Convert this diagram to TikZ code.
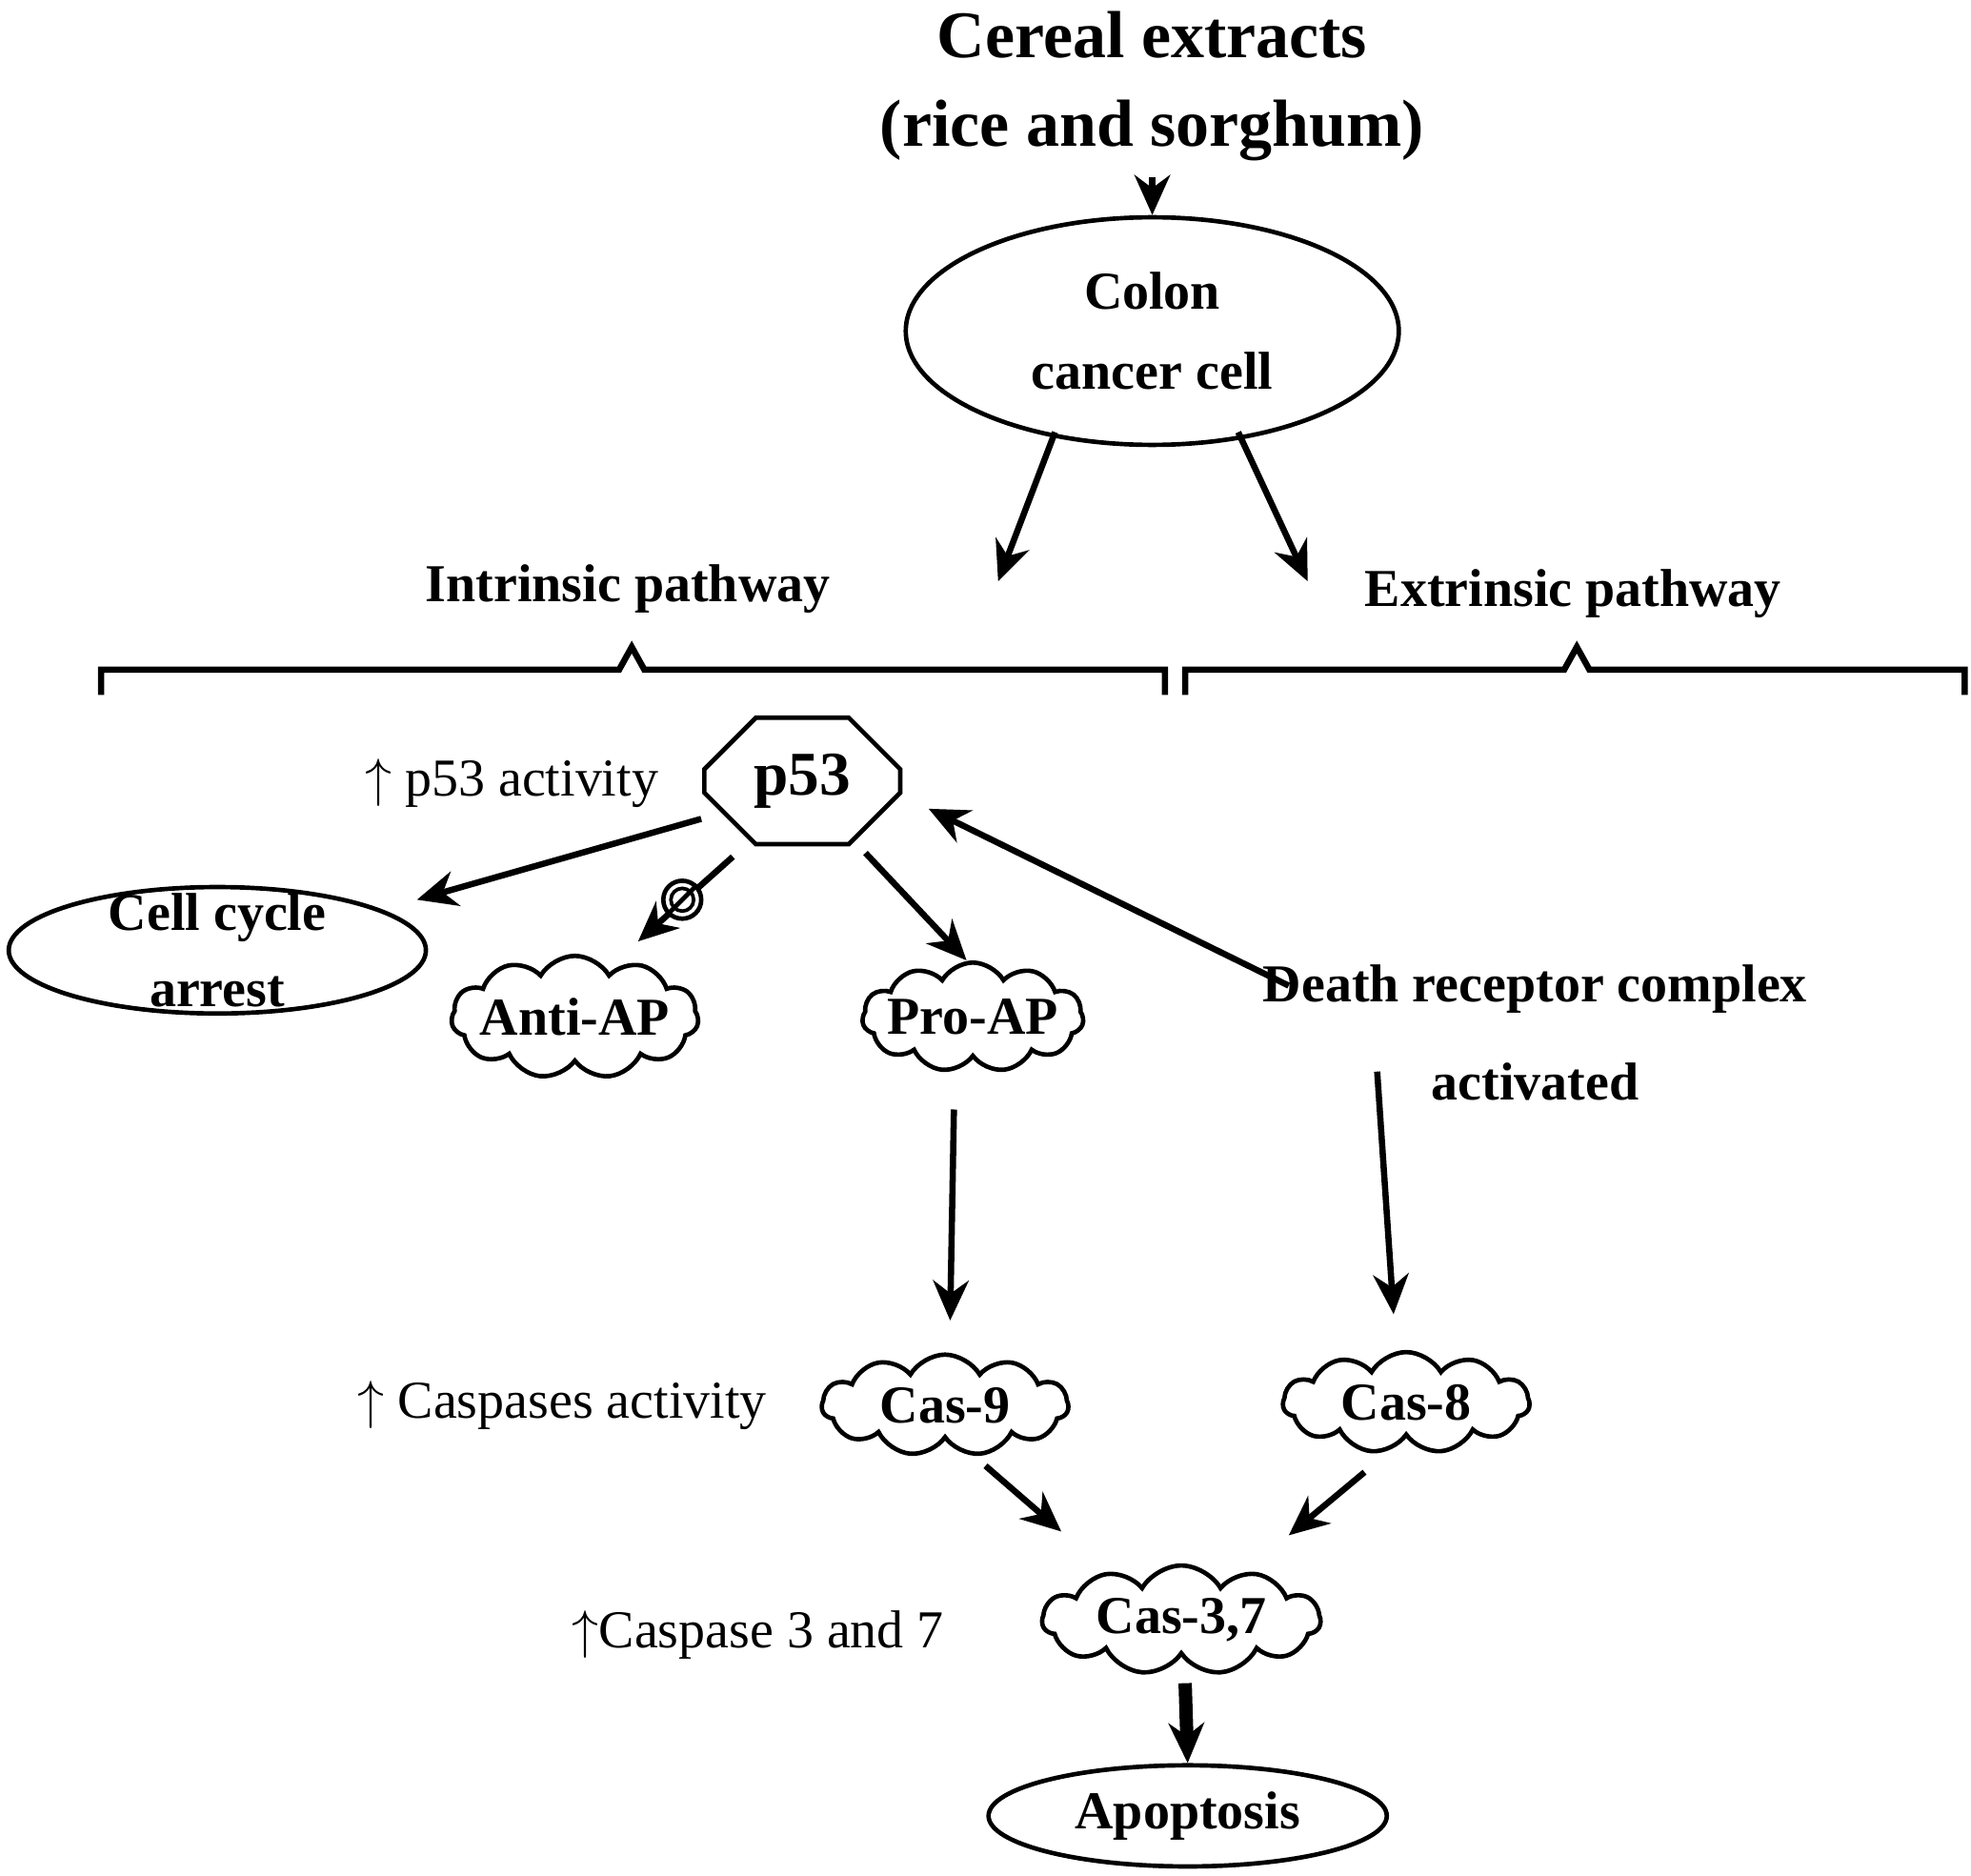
\documentclass[tikz,border=0pt]{standalone}
\usepackage{fontspec}
\setmainfont{Liberation Serif}
\usetikzlibrary{arrows.meta,shapes.geometric,shapes.misc,shapes.symbols}
\tikzset{
  lbl/.style={font=\fontsize{12}{14}\selectfont\bfseries, align=center},
  note/.style={font=\fontsize{12}{14}\selectfont},
  oval/.style={draw, ellipse, line width=1pt, inner sep=0pt},
  puff/.style={draw, cloud, cloud puffs=11, cloud puff arc=120, line width=1pt, inner sep=-2pt, aspect=2.8},
  arr/.style={-{Stealth[length=9pt,width=8pt]}, line width=1.4pt},
  brc/.style={line width=1.4pt}
}
\begin{document}
\begin{tikzpicture}[x=0.01cm, y=-0.01cm]
	  \useasboundingbox (0,0) rectangle (1560,1484);

	  \node[lbl, font=\fontsize{15}{18}\selectfont\bfseries] (cereal) at (912,68) {Cereal extracts\\[2pt](rice and sorghum)};
	  \node[oval, minimum width=3.9cm, minimum height=1.8cm] (colon) at (912,262) {};
	  \node[lbl] at (colon) {Colon\\[4pt]cancer cell};
	  \draw[arr] (912,140) -- (colon.north);

	  \node[lbl] (intr) at (497,466) {Intrinsic pathway};
	  \node[lbl] (extr) at (1245,470) {Extrinsic pathway};
	  \coordinate (cl) at (790,460);
	  \coordinate (cr) at (1035,460);
	  \draw[arr] (835,342) -- (cl);
	  \draw[arr] (980,342) -- (cr);

	  % braces
	  \draw[brc] (80,550) -- (80,530) -- (490,530) -- (500,512) -- (510,530) -- (922,530) -- (922,550);
	  \draw[brc] (938,550) -- (938,530) -- (1238,530) -- (1248,512) -- (1258,530) -- (1555,530) -- (1555,550);

	  \node[draw, chamfered rectangle, chamfered rectangle xsep=0.3cm, line width=1pt, minimum width=1.55cm, minimum height=1.0cm, inner xsep=2pt, font=\fontsize{14}{16}\selectfont\bfseries] (p53) at (635,618) {p53};
	  \node[note] at (405,620) {$\uparrow$ p53 activity};

	  \node[oval, minimum width=3.3cm, minimum height=1.0cm] (arrest) at (172,752) {};
	  \node[lbl] at (arrest) {Cell cycle\\[3pt]arrest};
	  \node[puff, lbl, minimum width=1.75cm, minimum height=0.6cm] (antiap) at (455,805) {Anti-AP};
	  \node[puff, lbl, minimum width=1.75cm, minimum height=0.6cm] (proap) at (770,805) {Pro-AP};
	  \node[lbl] (death) at (1215,817) {Death receptor complex\\[8pt]activated};

	  \coordinate (a1) at (330,712);
	  \coordinate (a2) at (505,745);
	  \coordinate (a3) at (765,760);
	  \coordinate (a4) at (735,640);
	  \draw[arr] (555,648) -- (a1);
	  \draw[arr] (580,678) -- (a2);
	  \draw[arr] (685,675) -- (a3);
	  \draw[arr] (1020,780) -- (a4);

	  % inhibitor mark
	  \node[draw, circle, line width=1pt, minimum size=0.3cm, inner sep=0pt, fill=white] (stop) at (540,712) {};
	  \draw[line width=0.8pt] (stop) circle (0.09cm);
	  \draw[line width=1pt] (stop.north east) -- (stop.south west);

	  \node[puff, lbl, minimum width=1.95cm, minimum height=0.8cm] (cas9) at (748,1112) {Cas-9};
	  \node[puff, lbl, minimum width=1.95cm, minimum height=0.8cm] (cas8) at (1113,1110) {Cas-8};
	  \node[note] at (445,1112) {$\uparrow$ Caspases activity};
	  \coordinate (b1) at (752,1045);
	  \coordinate (b2) at (1103,1040);
	  \draw[arr] (755,878) -- (b1);
	  \draw[arr] (1090,848) -- (b2);

	  \node[puff, lbl, minimum width=2.2cm, minimum height=0.85cm] (cas37) at (935,1282) {Cas-3,7};
	  \node[note] at (600,1294) {$\uparrow$Caspase 3 and 7};
	  \coordinate (c1) at (840,1212);
	  \coordinate (c2) at (1020,1215);
	  \draw[arr] (780,1160) -- (c1);
	  \draw[arr] (1080,1165) -- (c2);

	  \node[oval, minimum width=3.15cm, minimum height=0.8cm, lbl] (apop) at (940,1437) {Apoptosis};
	  \draw[arr, line width=3pt] (938,1332) -- (apop.north);
	\end{tikzpicture}
\end{document}
